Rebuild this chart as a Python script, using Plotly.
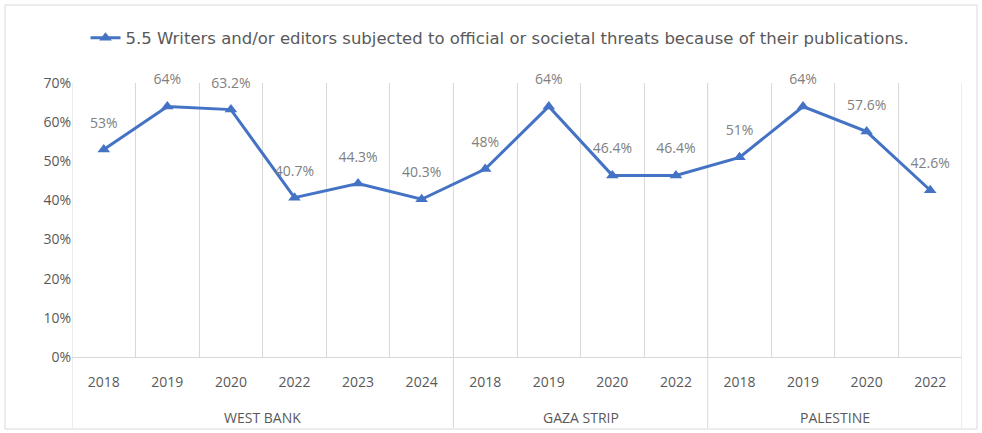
import plotly.graph_objects as go

groups = ["WEST BANK"] * 6 + ["GAZA STRIP"] * 4 + ["PALESTINE"] * 4
years = ["2018", "2019", "2020", "2022", "2023", "2024",
         "2018", "2019", "2020", "2022",
         "2018", "2019", "2020", "2022"]
values = [53, 64, 63.2, 40.7, 44.3, 40.3, 48, 64, 46.4, 46.4, 51, 64, 57.6, 42.6]
labels = ["53%", "64%", "63.2%", "40.7%", "44.3%", "40.3%", "48%", "64%",
          "46.4%", "46.4%", "51%", "64%", "57.6%", "42.6%"]
series_name = "5.5 Writers and/or editors subjected to official or societal threats because of their publications."

W, H = 982, 433
L, R, T, B = 72, 20, 83, 76
pw, ph = W - L - R, H - T - B
GRID = "#d9d9d9"
TXT = "#595959"

xs = list(range(len(values)))
ys = [v / 100 for v in values]

fig = go.Figure()
fig.add_trace(go.Scatter(
    x=xs, y=ys, mode="lines+markers", name=series_name,
    line=dict(color="#4472C4", width=3),
    marker=dict(symbol="triangle-up", size=11, color="#4472C4"),
    hoverinfo="skip", cliponaxis=False,
))
fig.add_trace(go.Scatter(
    x=xs, y=ys, mode="markers+text", text=labels, textposition="top center",
    textfont=dict(family="Open Sans", size=14, color="#808080"),
    marker=dict(size=28, opacity=0), showlegend=False, hoverinfo="skip",
    cliponaxis=False,
))

# group spans derived from the groups list
spans = []
for i, g in enumerate(groups):
    if not spans or spans[-1][0] != g:
        spans.append([g, i, i])
    else:
        spans[-1][2] = i

shapes = [dict(type="rect", xref="paper", yref="paper",
               x0=(5 - L) / pw, x1=(977 - L) / pw,
               y0=-(429 - (T + ph)) / ph, y1=1 + (T - 5) / ph,
               line=dict(color=GRID, width=1))]
annotations = []
bounds = [spans[0][1] - 0.5] + [s[2] + 0.5 for s in spans]
for b in bounds:
    shapes.append(dict(type="line", xref="x", yref="paper", x0=b, x1=b,
                       y0=1, y1=-(428 - (T + ph)) / ph,
                       line=dict(color=GRID, width=1), layer="below"))
for g, a, z in spans:
    annotations.append(dict(x=(a + z) / 2, xref="x", y=-(417 - (T + ph)) / ph,
                            yref="paper", text=g, showarrow=False,
                            yanchor="middle", xanchor="center",
                            font=dict(family="Open Sans", size=14, color=TXT)))

fig.update_layout(
    width=W, height=H,
    margin=dict(l=L, r=R, t=T, b=B, autoexpand=False),
    paper_bgcolor="white", plot_bgcolor="white",
    font=dict(family="Open Sans", color=TXT, size=13),
    showlegend=True,
    legend=dict(orientation="h", x=(500 - L) / pw, xanchor="center", y=1 + (T - 38) / ph,
                yanchor="middle", font=dict(family="DejaVu Sans", size=16.5, color=TXT),
                bgcolor="rgba(0,0,0,0)"),
    xaxis=dict(
        range=[-0.5, len(values) - 0.5], tickmode="array", tickvals=xs, ticktext=years,
        showgrid=False, zeroline=False, showline=True, linecolor=GRID,
        ticks="outside", ticklen=12, tickcolor="rgba(0,0,0,0)",
        tickfont=dict(family="Open Sans", size=14, color=TXT), automargin=False,
        minor=dict(tick0=-0.5, dtick=1, showgrid=True, gridcolor=GRID, gridwidth=1, ticks=""),
    ),
    yaxis=dict(
        range=[0, 0.7], dtick=0.1, tickformat=".0%", showgrid=False,
        zeroline=False, showline=False, ticks="", automargin=False,
        tickfont=dict(family="Open Sans", size=14, color=TXT),
    ),
    shapes=shapes, annotations=annotations,
)

fig.write_html("out.html", config={"displayModeBar": False},
               post_script="document.body.style.margin='0';")
